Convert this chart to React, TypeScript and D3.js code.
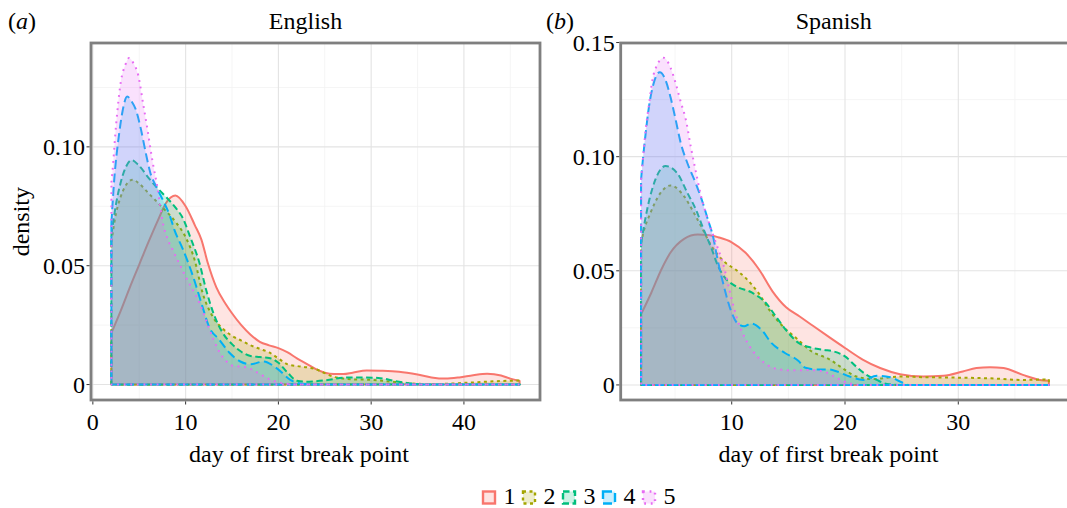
import React from "react";
import * as d3 from "d3";

type Pt = [number, number];

const groups = ["1", "2", "3", "4", "5"];
const groupColors = ["#F8766D", "#A3A500", "#00BF7D", "#00B0F6", "#E76BF3"];
const groupDashes = ["none", "3,3.5", "6.5,3.5", "9,4.5", "1.8,4.8"];

// (a) English — density of day of first break point, one curve per group
const english1: Pt[] = [
  [2, 0.0217], [3, 0.031], [4, 0.041], [5, 0.0505], [6, 0.06], [7, 0.069], [7.9, 0.0765], [8.9, 0.0795],
  [10, 0.075], [11, 0.067], [11.7, 0.061], [12.4, 0.051], [13.3, 0.041], [14.3, 0.034], [15, 0.03], [16, 0.025],
  [17, 0.021], [18, 0.018], [19, 0.0165], [20, 0.0153], [21, 0.0135], [22, 0.011], [23, 0.0088], [24, 0.0066],
  [25, 0.005], [26, 0.0044], [27, 0.0044], [28, 0.005], [29.5, 0.0059], [31, 0.0058], [33, 0.0054], [35, 0.0042],
  [36.5, 0.003], [38, 0.0025], [39.5, 0.003], [41, 0.0039], [42.5, 0.0045], [44, 0.0038], [45, 0.0025], [46, 0.0015],
];
const english2: Pt[] = [
  [2, 0.06], [2.5, 0.072], [3, 0.079], [3.5, 0.0835], [4.3, 0.0862], [5, 0.0845], [6, 0.0805], [7, 0.0765],
  [8, 0.0725], [9, 0.068], [10, 0.062], [11, 0.052], [11.8, 0.039], [12.9, 0.0287], [14, 0.0235], [15, 0.0205],
  [16, 0.0185], [17, 0.0165], [18, 0.015], [19, 0.0135], [20, 0.011], [21, 0.0085], [22, 0.0078], [23, 0.0073],
  [24, 0.0065], [25, 0.0048], [26, 0.0032], [27, 0.0025], [28, 0.0022], [30, 0.002], [32, 0.0013], [34, 0.0006],
  [36, 0.0002], [38, 0.0003], [40, 0.0007], [42, 0.0011], [44, 0.0015], [46, 0.0017],
];
const english3: Pt[] = [
  [2, 0.063], [2.5, 0.076], [3, 0.085], [3.5, 0.091], [4.2, 0.0944], [5, 0.092], [6, 0.087], [7, 0.0825],
  [8, 0.0785], [9, 0.074], [9.7, 0.07], [10.5, 0.062], [11.5, 0.051], [12.2, 0.04], [13, 0.03], [14, 0.0217],
  [15, 0.017], [16, 0.0138], [17, 0.012], [18, 0.0116], [19, 0.0112], [20, 0.0092], [21, 0.005], [22, 0.0016],
  [23, 0.0012], [24, 0.0014], [25.5, 0.002], [27, 0.0029], [29, 0.003], [31, 0.0027], [32.5, 0.0015], [34, 0.0006],
  [35, 0.0002], [36, 0], [46, 0],
];
const english4: Pt[] = [
  [2, 0.068], [2.3, 0.086], [2.8, 0.1045], [3.2, 0.115], [3.7, 0.1212], [4.2, 0.119], [4.6, 0.116], [5.15, 0.108],
  [5.7, 0.0975], [6.2, 0.089], [6.8, 0.0835], [7.5, 0.078], [8.3, 0.071], [8.8, 0.065], [9.7, 0.057], [10.8, 0.0455],
  [11.8, 0.033], [12.5, 0.0245], [13.6, 0.019], [14.7, 0.0135], [15.9, 0.0097], [17, 0.0085], [18.4, 0.0097],
  [19.8, 0.0069], [21.3, 0.002], [22, 0.0007], [23, 0.0002], [24, 0], [46, 0],
];
const english5: Pt[] = [
  [2, 0.085], [2.1, 0.089], [2.5, 0.109], [3, 0.127], [3.5, 0.1345], [3.9, 0.1374], [4.4, 0.135], [4.9, 0.13],
  [5.4, 0.1186], [5.9, 0.107], [6.4, 0.0946], [7, 0.082], [7.5, 0.069], [8.2, 0.06], [8.6, 0.0567], [10, 0.0455],
  [11.5, 0.0343], [12.9, 0.02], [13.6, 0.014], [14.4, 0.0098], [15.2, 0.0078], [16.3, 0.0075], [17, 0.0066],
  [18, 0.0045], [19, 0.0023], [20, 0.001], [21, 0.0003], [22, 0], [46, 0],
];

// (b) Spanish
const spanish1: Pt[] = [
  [2, 0.031], [2.9, 0.0404], [3.8, 0.0507], [4.6, 0.058], [5.8, 0.064], [7, 0.0659], [7.9, 0.0657], [8.8, 0.0647],
  [10, 0.0625], [11.2, 0.058], [12.4, 0.0507], [13.6, 0.041], [14.8, 0.034], [16, 0.03], [17, 0.0265], [18.7, 0.0206],
  [20, 0.0162], [21.6, 0.011], [23.1, 0.0074], [24.85, 0.0047], [26.9, 0.0037], [28.7, 0.004], [30.4, 0.0059],
  [31.6, 0.0074], [32.8, 0.0078], [34, 0.0074], [35.7, 0.0044], [37.2, 0.0022], [38, 0.0018],
];
const spanish2: Pt[] = [
  [2, 0.062], [2.2, 0.0666], [2.8, 0.075], [3.7, 0.084], [4.6, 0.0874], [5.8, 0.0826], [6.7, 0.075], [7.3, 0.0695],
  [8.2, 0.061], [9.4, 0.0537], [10.3, 0.0507], [11.2, 0.047], [12.4, 0.04], [13.3, 0.033], [14.5, 0.0257],
  [15.7, 0.0205], [16.9, 0.0152], [18.7, 0.011], [20, 0.0066], [21, 0.0037], [22.5, 0.0026], [24.85, 0.0037],
  [26.9, 0.0034], [29.85, 0.0032], [32.8, 0.0029], [35.7, 0.0022], [38, 0.0025],
];
const spanish3: Pt[] = [
  [2, 0.062], [2.2, 0.068], [2.66, 0.0797], [3.25, 0.0898], [4.16, 0.0959], [5.2, 0.0927], [6.1, 0.084],
  [6.85, 0.0767], [7.45, 0.069], [8.2, 0.06], [8.8, 0.052], [9.4, 0.047], [10.3, 0.0434], [11.8, 0.0404], [13, 0.036],
  [13.9, 0.03], [14.8, 0.024], [15.9, 0.0184], [16.9, 0.0165], [18.1, 0.0154], [19, 0.0147], [20, 0.0125], [21, 0.008],
  [21.9, 0.0044], [22.8, 0.0022], [23.7, 0.0004], [25, 0], [38, 0],
];
const spanish4: Pt[] = [
  [2, 0.09], [2.1, 0.0956], [2.4, 0.11], [2.7, 0.122], [3.1, 0.132], [3.65, 0.137], [4.2, 0.133], [4.6, 0.126],
  [5.06, 0.116], [5.5, 0.106], [6.1, 0.097], [6.85, 0.088], [7.45, 0.0797], [7.9, 0.0724], [8.35, 0.065], [8.75, 0.055],
  [9.3, 0.0434], [9.9, 0.033], [10.5, 0.027], [11.1, 0.0257], [11.7, 0.0269], [12.6, 0.0243], [13.5, 0.0184],
  [14.7, 0.014], [15.9, 0.0105], [16.5, 0.0075], [17.5, 0.0068], [18.5, 0.0068], [19.3, 0.0059], [20.4, 0.0037],
  [21.6, 0.0022], [22.8, 0.004], [24, 0.0034], [24.85, 0.0015], [25.7, 0], [38, 0],
];
const spanish5: Pt[] = [
  [2, 0.09], [2.1, 0.0956], [2.4, 0.1116], [2.7, 0.123], [3.1, 0.136], [4, 0.1433], [4.6, 0.139], [5.06, 0.132],
  [5.5, 0.124], [5.96, 0.116], [6.4, 0.104], [6.85, 0.093], [7.3, 0.0826], [7.9, 0.0724], [8.5, 0.0637], [9.3, 0.052],
  [10, 0.0375], [10.5, 0.0287], [11.1, 0.0213], [12, 0.014], [12.9, 0.0096], [14.1, 0.0069], [15.3, 0.0064],
  [16.9, 0.0065], [18.1, 0.0059], [19.3, 0.003], [20.4, 0.0007], [21.5, 0], [38, 0],
];

const englishXTicks = [0, 10, 20, 30, 40];
const englishXMinor = [5, 15, 25, 35, 45];
const englishYTicks = [0, 0.05, 0.1];
const spanishXTicks = [10, 20, 30];
const spanishXMinor = [5, 15, 25, 35];
const spanishYTicks = [0, 0.05, 0.1, 0.15];
const yMinorTicks = [0.025, 0.075, 0.125];

const font = "'Liberation Serif', 'Times New Roman', serif";
const fontSize = 24;
const panelTop = 43;
const panelBottom = 400;

const fmtY = (v: number) => (v === 0 ? "0" : d3.format(".2f")(v));

const Panel = ({ id, series, left, right, xDomain, yDomain, xTicks, xMinor, yTicks, tag, tagX, title, titleX, axisTitleX }: any) => {
  const x = d3.scaleLinear().domain(xDomain).range([left, right]);
  const y = d3.scaleLinear().domain(yDomain).range([panelBottom, panelTop]);
  const area = d3
    .area<Pt>()
    .x((d) => x(d[0]))
    .y0(y(0))
    .y1((d) => y(d[1]))
    .curve(d3.curveMonotoneX);

  return (
    <g>
      <defs>
        <clipPath id={id}>
          <rect x={left} y={panelTop} width={right - left} height={panelBottom - panelTop} />
        </clipPath>
      </defs>
      <g clipPath={`url(#${id})`}>
        {xMinor.map((v: number) => (
          <line key={`xm-${v}`} x1={x(v)} x2={x(v)} y1={panelTop} y2={panelBottom} stroke="#f3f3f3" strokeWidth={0.8} />
        ))}
        {yMinorTicks.map((v) => (
          <line key={`ym-${v}`} x1={left} x2={right} y1={y(v)} y2={y(v)} stroke="#f3f3f3" strokeWidth={0.8} />
        ))}
        {xTicks.map((v: number) => (
          <line key={`xg-${v}`} x1={x(v)} x2={x(v)} y1={panelTop} y2={panelBottom} stroke="#e3e3e3" strokeWidth={1.1} />
        ))}
        {yTicks.map((v: number) => (
          <line key={`yg-${v}`} x1={left} x2={right} y1={y(v)} y2={y(v)} stroke="#e3e3e3" strokeWidth={1.1} />
        ))}
        {series.map((d: Pt[], i: number) => (
          <path
            key={`s-${i}`}
            d={area(d) || ""}
            fill={groupColors[i]}
            fillOpacity={0.2}
            stroke={groupColors[i]}
            strokeWidth={2}
            strokeDasharray={groupDashes[i]}
            strokeLinejoin="round"
          />
        ))}
      </g>
      <rect
        x={left}
        y={panelTop}
        width={right - left}
        height={panelBottom - panelTop}
        fill="none"
        stroke="#7f7f7f"
        strokeWidth={2.8}
      />

      {yTicks.map((v: number) => (
        <g key={`yt-${v}`} transform={`translate(0, ${y(v)})`}>
          <line x1={left - 4.5} x2={left - 1.4} stroke="#333" strokeWidth={1} />
          <text x={left - 6} dy="0.34em" textAnchor="end" fontFamily={font} fontSize={fontSize}>
            {fmtY(v)}
          </text>
        </g>
      ))}
      {xTicks.map((v: number) => (
        <g key={`xt-${v}`} transform={`translate(${x(v)}, 0)`}>
          <line y1={panelBottom + 1.4} y2={panelBottom + 4.5} stroke="#333" strokeWidth={1} />
          <text y={430} textAnchor="middle" fontFamily={font} fontSize={fontSize}>
            {v}
          </text>
        </g>
      ))}

      <text x={tagX} y={28.5} fontFamily={font} fontSize={fontSize}>
        (<tspan fontStyle="italic">{tag}</tspan>)
      </text>
      <text x={titleX} y={28.5} textAnchor="middle" fontFamily={font} fontSize={fontSize}>
        {title}
      </text>
      <text x={axisTitleX} y={462} textAnchor="middle" fontFamily={font} fontSize={fontSize}>
        day of first break point
      </text>
    </g>
  );
};

const App = () => {
  const legendX = d3.scaleLinear().domain([0, 1]).range([483, 523]);
  return (
    <svg
      width={1067}
      height={508}
      style={{ position: "absolute", left: 0, top: 0, background: "#fff" }}
    >
      <rect width={1067} height={508} fill="#fff" />
      <Panel
        id="clip-english"
        series={[english1, english2, english3, english4, english5]}
        left={91}
        right={540}
        xDomain={[-0.2, 48.2]}
        yDomain={[-0.0065, 0.1437]}
        xTicks={englishXTicks}
        xMinor={englishXMinor}
        yTicks={englishYTicks}
        tag="a"
        tagX={8}
        title="English"
        titleX={305.5}
        axisTitleX={299}
      />
      <Panel
        id="clip-spanish"
        series={[spanish1, spanish2, spanish3, spanish4, spanish5]}
        left={620.7}
        right={1069.3}
        xDomain={[0.2, 39.8]}
        yDomain={[-0.0066, 0.1498]}
        xTicks={spanishXTicks}
        xMinor={spanishXMinor}
        yTicks={spanishYTicks}
        tag="b"
        tagX={546}
        title="Spanish"
        titleX={833.7}
        axisTitleX={828.5}
      />
      <text transform="translate(28.5, 221.7) rotate(-90)" textAnchor="middle" fontFamily={font} fontSize={fontSize}>
        density
      </text>

      {groups.map((g, i) => (
        <g key={`lg-${g}`} transform={`translate(${legendX(i)}, 491.5)`}>
          <rect
            x={0}
            y={0}
            width={12}
            height={12}
            fill={groupColors[i]}
            fillOpacity={0.2}
            stroke={groupColors[i]}
            strokeWidth={2.4}
            strokeDasharray={groupDashes[i]}
          />
          <text x={20.5} y={12} fontFamily={font} fontSize={fontSize}>
            {g}
          </text>
        </g>
      ))}
    </svg>
  );
};

export default App;
